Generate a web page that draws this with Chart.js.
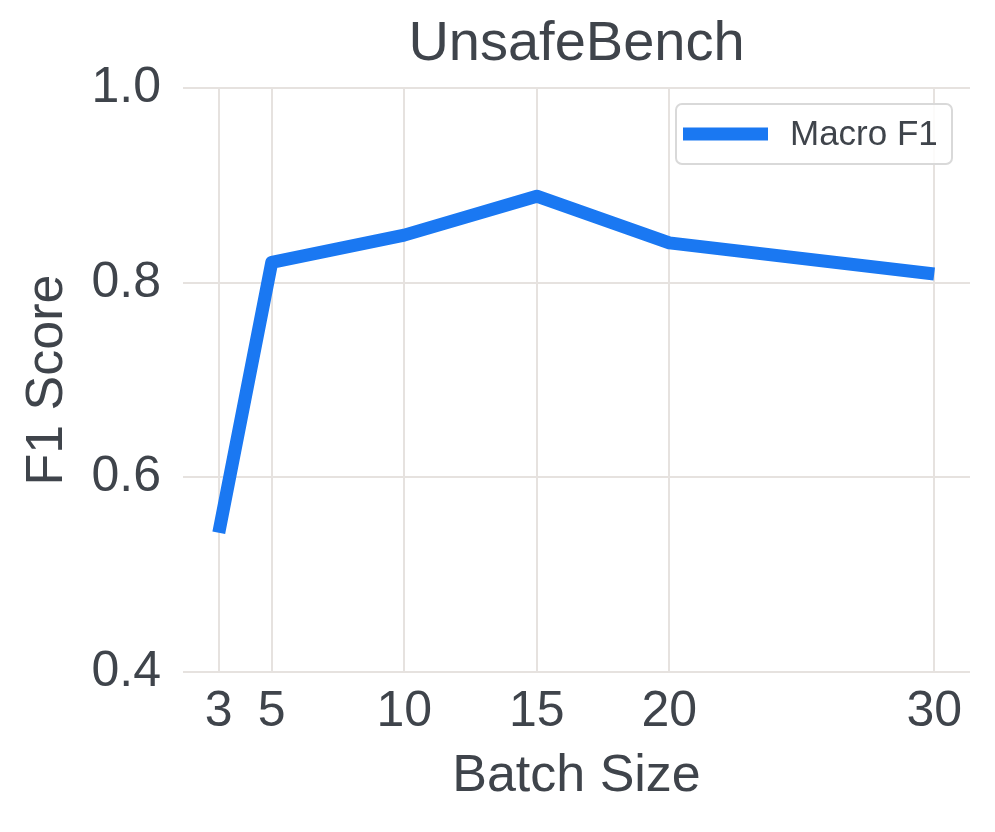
<!DOCTYPE html>
<html>
<head>
<meta charset="utf-8">
<script src="https://cdn.jsdelivr.net/npm/chart.js@4.4.1/dist/chart.umd.min.js"></script>
<style>
  html, body { margin: 0; padding: 0; background: #fff; }
  #wrap { width: 995px; height: 832px; }
</style>
</head>
<body>
<div id="wrap"><canvas id="lineChart" width="995" height="832"></canvas></div>
<script>
// =================== DATA ===================
const batchSizes = [3, 5, 10, 15, 20, 30];
const macroF1 = [0.543, 0.821, 0.849, 0.889, 0.841, 0.809];
const xTicks = [3, 5, 10, 15, 20, 30];
const yTicks = [0.4, 0.6, 0.8, 1.0];
const seriesName = "Macro F1";

const textColor = "#3f444b";
const gridColor = "#e6e2df";
const lineColor = "#1a78f2";
const fontFamily = "'Liberation Sans', Arial, sans-serif";

// legend drawn inside the plot, matplotlib style
const insideLegend = {
  id: "insideLegend",
  afterDraw(chart) {
    const ctx = chart.ctx;
    const x = 676, y = 104, w = 276, h = 60;
    ctx.save();
    ctx.fillStyle = "rgba(255,255,255,0.85)";
    ctx.strokeStyle = "#d9d9d9";
    ctx.lineWidth = 2;
    ctx.beginPath();
    ctx.roundRect(x, y, w, h, 6);
    ctx.fill();
    ctx.stroke();
    ctx.strokeStyle = lineColor;
    ctx.lineWidth = 13;
    ctx.beginPath();
    ctx.moveTo(683, y + h / 2);
    ctx.lineTo(768, y + h / 2);
    ctx.stroke();
    ctx.fillStyle = textColor;
    ctx.font = "35px " + fontFamily;
    ctx.textBaseline = "middle";
    ctx.fillText(chart.data.datasets[0].label, 790, y + h / 2 + 1);
    ctx.restore();
  }
};

new Chart(document.getElementById("lineChart"), {
  type: "line",
  data: {
    datasets: [{
      label: seriesName,
      data: batchSizes.map((b, i) => ({ x: b, y: macroF1[i] })),
      borderColor: lineColor,
      borderWidth: 13,
      borderCapStyle: "butt",
      borderJoinStyle: "round",
      pointRadius: 0,
      tension: 0
    }]
  },
  options: {
    responsive: false,
    animation: false,
    layout: { padding: { left: 0, right: 25, top: 0, bottom: 0 } },
    plugins: {
      legend: { display: false },
      tooltip: { enabled: false },
      title: {
        display: true,
        fullSize: false,
        text: "UnsafeBench",
        color: textColor,
        font: { family: fontFamily, size: 56, weight: "normal", lineHeight: 1.2 },
        padding: { top: 11, bottom: 10 }
      }
    },
    scales: {
      x: {
        type: "linear",
        min: 1.65,
        max: 31.35,
        afterBuildTicks: s => { s.ticks = xTicks.map(v => ({ value: v })); },
        afterFit: s => { s.height = 160; },
        border: { display: false },
        grid: { color: gridColor, lineWidth: 2, drawTicks: false },
        ticks: {
          color: textColor,
          padding: 10,
          maxRotation: 0,
          autoSkip: false,
          font: { family: fontFamily, size: 50 }
        },
        title: {
          display: true,
          text: "Batch Size",
          color: textColor,
          font: { family: fontFamily, size: 52, lineHeight: 1.2 },
          padding: { top: 0, bottom: 24 }
        }
      },
      y: {
        min: 0.4,
        max: 1.0,
        afterBuildTicks: s => { s.ticks = yTicks.map(v => ({ value: v })); },
        afterFit: s => { s.width = 183; },
        border: { display: false },
        grid: { color: gridColor, lineWidth: 2, drawTicks: false },
        ticks: {
          color: textColor,
          padding: 22,
          font: { family: fontFamily, size: 50 },
          callback: v => v.toFixed(1)
        },
        title: {
          display: true,
          text: "F1 Score",
          color: textColor,
          font: { family: fontFamily, size: 52, lineHeight: 1.2 },
          padding: { top: 16, bottom: 0 }
        }
      }
    }
  },
  plugins: [insideLegend]
});
</script>
</body>
</html>
